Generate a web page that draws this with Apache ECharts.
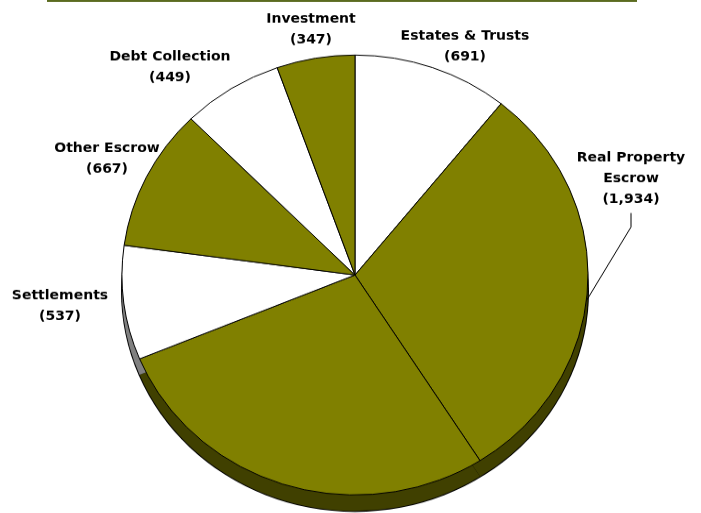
<!DOCTYPE html>
<html>
<head>
<meta charset="utf-8">
<script src="https://cdn.jsdelivr.net/npm/echarts@6/dist/echarts.min.js"></script>
<style>
  html, body { margin: 0; padding: 0; background: #ffffff; overflow: hidden; }
  #wrap { width: 701px; height: 513px; overflow: hidden; position: relative; }
  /* the pie is drawn round and squashed vertically to read as a tilted disc */
  #chart { width: 701px; height: 543px; transform: scaleY(0.944); transform-origin: 0 0; }
</style>
</head>
<body>
<div id="wrap"><div id="chart"></div></div>
<script>
// Slices, clockwise from twelve o'clock
const categories = ['Estates & Trusts', 'Real Property\nEscrow', '', 'Settlements', 'Other Escrow', 'Debt Collection', 'Investment'];
const values = [691, 1934, 1780, 537, 667, 449, 347];
const showLabel = [true, true, false, true, true, true, true];

// Fill of the top face and of the rim for each slice
const topColors = ['#ffffff', '#808000', '#808000', '#ffffff', '#808000', '#ffffff', '#808000'];
const rimColors = ['#808080', '#404000', '#404000', '#808080', '#404000', '#808080', '#404000'];

// Where each label block sits on the page (centre of the text block)
const labelSpots = [[465, 47], [631, 179], null, [60, 306], [107, 159], [170, 67], [311, 30]];
// Leader line for the Real Property Escrow label
const leader = [[585, 303], [631, 227], [631, 213]];

const TILT = 0.944;
const CX = 355, CY = 275, R = 233, DEPTH = 16;

const fmt = v => v.toLocaleString('en-US');

const topData = values.map((v, i) => ({
  name: categories[i],
  value: v,
  itemStyle: { color: topColors[i] },
  label: { show: showLabel[i] },
  labelLine: { show: i === 1 }
}));
const rimData = values.map((v, i) => ({
  name: categories[i],
  value: v,
  itemStyle: { color: rimColors[i] }
}));

const chart = echarts.init(document.getElementById('chart'), null, { renderer: 'canvas' });
chart.setOption({
  backgroundColor: '#ffffff',
  animation: false,
  graphic: [{
    type: 'line',
    shape: { x1: 47, y1: 1 / TILT, x2: 637, y2: 1 / TILT },
    style: { stroke: '#5b6b1f', lineWidth: 2 },
    silent: true
  }],
  series: [
    {
      // black outline under the rim
      type: 'pie',
      z: 1,
      silent: true,
      center: [CX, (CY + DEPTH) / TILT],
      radius: [0, R + 1],
      startAngle: 90,
      label: { show: false },
      labelLine: { show: false },
      data: [{ value: 1, itemStyle: { color: '#000000' } }]
    },
    {
      // rim of the disc
      type: 'pie',
      z: 2,
      silent: true,
      center: [CX, (CY + DEPTH) / TILT],
      radius: [0, R],
      startAngle: 90,
      clockwise: true,
      label: { show: false },
      labelLine: { show: false },
      itemStyle: { borderWidth: 0 },
      data: rimData
    },
    {
      // top face
      type: 'pie',
      z: 3,
      center: [CX, CY / TILT],
      radius: [0, R],
      startAngle: 90,
      clockwise: true,
      avoidLabelOverlap: false,
      itemStyle: { borderColor: '#000000', borderWidth: 1 },
      label: {
        show: true,
        position: 'outside',
        formatter: p => p.name + '\n(' + fmt(p.value) + ')',
        fontFamily: '"DejaVu Sans", sans-serif',
        fontWeight: 'bold',
        fontSize: 14,
        lineHeight: 22,
        color: '#000000',
        align: 'center'
      },
      labelLine: { show: true, lineStyle: { color: '#000000', width: 1 } },
      labelLayout: function (params) {
        const spot = labelSpots[params.dataIndex];
        if (!spot) return {};
        const out = {
          x: spot[0],
          y: spot[1] / TILT,
          align: 'center',
          verticalAlign: 'middle'
        };
        if (params.dataIndex === 1) {
          out.labelLinePoints = leader.map(p => [p[0], p[1] / TILT]);
        }
        return out;
      },
      data: topData
    }
  ]
});
</script>
</body>
</html>
